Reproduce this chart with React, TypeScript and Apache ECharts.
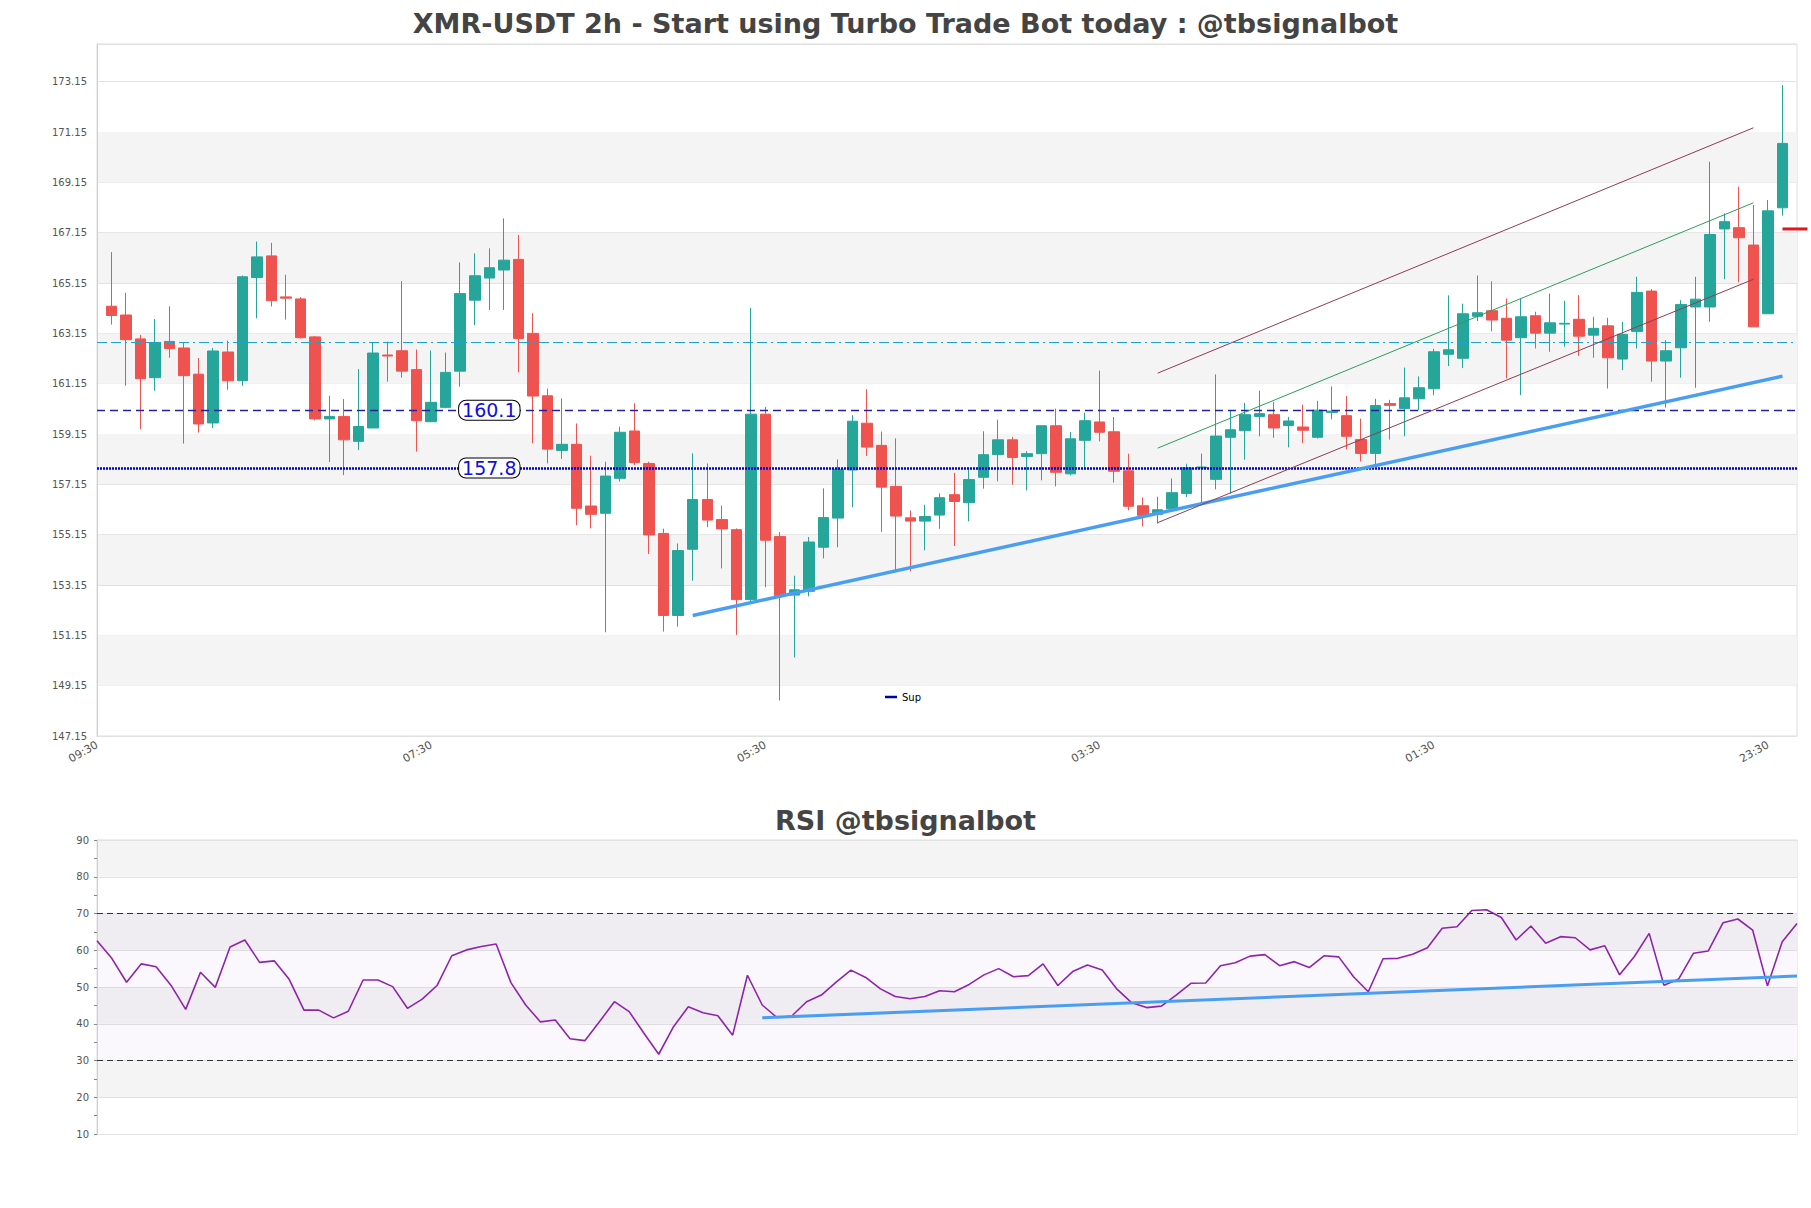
import React, { useEffect, useRef } from 'react';
import * as echarts from 'echarts';

// ---- data ----
const opens = [
  164.23, 163.88, 162.93, 161.39, 162.83, 162.57, 161.53, 159.59, 162.41, 161.27,
  165.37, 166.23, 164.60, 164.52, 163.01, 159.75, 159.85, 158.86, 159.39, 162.29,
  162.46, 161.71, 159.64, 160.21, 161.65, 164.47, 165.35, 165.67, 166.09, 163.15,
  160.67, 158.50, 158.74, 156.29, 156.00, 157.39, 159.27, 157.98, 155.20, 151.94,
  154.57, 156.55, 155.75, 155.35, 152.57, 159.94, 155.08, 152.75, 152.90, 154.65,
  155.81, 157.72, 159.58, 158.70, 157.07, 155.82, 155.69, 155.93, 156.74, 156.42,
  157.43, 158.33, 158.92, 158.26, 158.37, 159.48, 157.57, 158.90, 159.63, 159.24,
  157.69, 156.30, 155.96, 156.18, 156.79, 157.80, 157.35, 159.02, 159.28, 159.85,
  159.92, 159.49, 159.43, 159.02, 160.01, 159.88, 158.93, 158.38, 160.36, 160.16,
  160.55, 160.95, 162.32, 162.16, 163.83, 164.05, 163.75, 162.98, 163.85, 163.16,
  163.52, 163.71, 163.08, 163.45, 162.13, 163.22, 164.83, 162.05, 162.58, 164.20,
  164.20, 167.30, 167.35, 166.66, 163.93, 168.14,
];
const highs = [
  166.38, 164.76, 163.09, 163.72, 164.23, 162.79, 162.17, 162.57, 162.86, 165.45,
  166.80, 166.75, 165.48, 164.59, 163.05, 160.67, 160.54, 161.73, 162.79, 162.82,
  165.23, 162.51, 162.47, 162.39, 165.97, 166.33, 166.53, 167.72, 167.06, 163.95,
  160.96, 160.57, 159.57, 158.29, 158.05, 159.44, 160.37, 158.05, 155.39, 154.80,
  158.38, 157.98, 156.31, 155.40, 164.16, 160.23, 155.26, 153.52, 155.06, 156.99,
  158.14, 159.90, 160.93, 159.25, 158.98, 156.11, 156.34, 156.79, 157.61, 157.73,
  159.26, 159.72, 159.03, 158.47, 159.48, 160.16, 159.23, 160.00, 161.67, 159.83,
  158.37, 156.63, 156.66, 157.38, 157.97, 158.37, 161.52, 160.09, 160.39, 160.87,
  160.42, 159.83, 160.32, 160.47, 161.04, 160.66, 159.76, 160.55, 160.51, 161.79,
  161.44, 162.54, 164.66, 164.33, 165.45, 165.22, 164.54, 164.54, 164.01, 164.73,
  164.45, 164.67, 163.81, 163.77, 163.61, 165.40, 164.91, 162.88, 164.47, 165.40,
  169.97, 167.92, 168.98, 168.25, 168.45, 173.02,
];
const lows = [
  163.50, 161.07, 159.34, 160.87, 162.18, 158.77, 159.21, 159.39, 160.91, 161.07,
  163.75, 164.22, 163.70, 162.95, 159.70, 158.04, 157.52, 158.52, 159.39, 161.23,
  161.39, 158.45, 159.64, 160.17, 161.03, 163.48, 164.08, 164.08, 161.60, 158.78,
  157.98, 158.16, 155.53, 155.40, 151.27, 157.26, 157.92, 154.38, 151.30, 151.50,
  153.32, 155.45, 153.81, 151.17, 152.43, 153.06, 148.56, 150.27, 152.70, 154.21,
  154.65, 156.24, 158.28, 155.26, 153.73, 153.69, 154.53, 155.38, 154.70, 155.68,
  156.98, 157.27, 157.14, 156.91, 157.31, 157.07, 157.51, 157.77, 158.86, 157.22,
  156.12, 155.48, 155.59, 156.05, 156.65, 156.35, 156.95, 156.78, 158.13, 159.06,
  159.00, 158.62, 158.79, 158.97, 159.73, 158.54, 158.06, 157.90, 158.93, 159.06,
  160.09, 160.69, 161.85, 161.77, 163.64, 163.23, 161.36, 160.70, 162.55, 162.42,
  162.62, 162.26, 162.18, 160.96, 161.69, 162.55, 161.23, 160.20, 161.39, 160.99,
  163.61, 165.30, 165.18, 163.41, 163.93, 167.83,
];
const closes = [
  163.86, 162.90, 161.35, 162.79, 162.55, 161.47, 159.55, 162.45, 161.27, 165.40,
  166.19, 164.45, 164.55, 162.98, 159.75, 159.85, 158.92, 159.45, 162.37, 162.25,
  161.65, 159.68, 160.41, 161.60, 164.73, 165.44, 165.76, 166.06, 162.95, 160.66,
  158.55, 158.74, 156.20, 155.96, 157.48, 159.22, 158.02, 155.14, 151.94, 154.52,
  156.55, 155.73, 155.38, 152.57, 159.94, 154.93, 152.73, 152.96, 154.86, 155.83,
  157.74, 159.66, 158.63, 157.04, 155.89, 155.69, 155.87, 156.62, 156.47, 157.34,
  158.33, 158.92, 158.22, 158.37, 159.48, 157.63, 158.96, 159.68, 159.22, 157.67,
  156.28, 155.92, 156.14, 156.82, 157.81, 157.84, 159.07, 159.32, 159.92, 159.96,
  159.39, 159.67, 159.30, 160.10, 160.06, 159.06, 158.38, 160.28, 160.29, 160.59,
  160.99, 162.42, 162.50, 163.93, 163.97, 163.68, 162.88, 163.81, 163.16, 163.57,
  163.55, 163.04, 163.35, 162.18, 163.11, 164.78, 162.05, 162.46, 164.30, 164.51,
  167.08, 167.59, 166.95, 163.41, 168.02, 170.70,
];
const rsiValues = [
  62.6, 57.8, 51.3, 56.3, 55.5, 50.5, 43.9, 54.0, 49.9, 60.9,
  62.8, 56.7, 57.1, 52.1, 43.7, 43.7, 41.6, 43.4, 51.9, 51.9,
  50.1, 44.2, 46.7, 50.4, 58.5, 60.1, 61.0, 61.7, 51.2, 45.1,
  40.5, 41.0, 35.9, 35.4, 40.6, 46.0, 43.3, 37.4, 31.7, 39.2,
  44.6, 43.0, 42.2, 36.9, 53.2, 45.1, 41.7, 42.1, 46.0, 47.8,
  51.3, 54.6, 52.6, 49.5, 47.4, 46.8, 47.4, 49.0, 48.7, 50.7,
  53.3, 55.0, 52.8, 53.1, 56.3, 50.4, 54.2, 56.0, 54.6, 49.4,
  45.7, 44.4, 44.8, 47.8, 51.0, 51.1, 55.8, 56.6, 58.4, 58.8,
  55.8, 56.9, 55.3, 58.5, 58.2, 52.8, 48.7, 57.7, 57.8, 58.9,
  60.7, 66.0, 66.4, 70.8, 71.0, 68.9, 62.8, 66.6, 61.9, 63.7,
  63.4, 60.1, 61.2, 53.3, 58.3, 64.6, 50.5, 52.2, 59.2, 59.8,
  67.5, 68.5, 65.5, 50.3, 62.3, 67.3,
];
const timeLabels = ['09:30', '07:30', '05:30', '03:30', '01:30', '23:30'];
const labelEvery = 23;
const resistanceLevel = 162.8;
const supportLevels = [160.1, 157.8];
const supportTrend = [[41, 151.94], [116, 161.45]];
const channelUpper = [[73, 161.57], [114, 171.32]];
const channelMid = [[73, 158.59], [114, 168.34]];
const channelLower = [[73, 155.63], [114, 165.3]];
const rsiTrend = [[45, 41.6], [115, 53.0]];
const lastPriceMark = [[116, 167.3]];
const greyBandStarts = [149.15, 153.15, 157.15, 161.15, 165.15, 169.15];
const priceMin = 147.15;
const priceMax = 174.65;
const rsiLevels = [70, 30];

const FONT = 'DejaVu Sans';

export default function App() {
  const ref = useRef<HTMLDivElement>(null);
  useEffect(() => {
    const chart = echarts.init(ref.current!, undefined, { renderer: 'svg' });
    const mainCats = Array.from({ length: opens.length + 2 }, (_, i) => String(i));
    const rsiCats = rsiValues.map((_, i) => String(i));
    const candleData = opens.map((o, i) => [i + 1, o, closes[i], lows[i], highs[i]]);

    const option: any = {
      animation: false,
      backgroundColor: '#fff',
      textStyle: { fontFamily: FONT },
      title: [
        {
          text: 'XMR-USDT 2h - Start using Turbo Trade Bot today : @tbsignalbot',
          left: 'center', top: 10, padding: 0,
          textStyle: { fontSize: 27, fontWeight: 'bold', color: '#444', fontFamily: FONT },
        },
        {
          text: 'RSI @tbsignalbot',
          left: 'center', top: 807, padding: 0,
          textStyle: { fontSize: 27, fontWeight: 'bold', color: '#444', fontFamily: FONT },
        },
      ],
      legend: {
        data: [{ name: 'Sup', icon: 'rect' }],
        left: 879, top: 686, padding: [6, 10, 6, 6],
        itemWidth: 12, itemHeight: 2.5, selectedMode: false,
        backgroundColor: '#fff',
        textStyle: { fontSize: 10, color: '#000', fontFamily: FONT },
      },
      grid: [
        { left: 97, top: 44, width: 1700, height: 692, show: true, borderColor: '#dcdcdc', borderWidth: 1 },
        { left: 97, top: 840, width: 1700, height: 294, show: true, borderColor: '#dcdcdc', borderWidth: 1 },
      ],
      xAxis: [
        {
          gridIndex: 0, type: 'category', data: mainCats, boundaryGap: false,
          axisLine: { lineStyle: { color: '#cfcfcf' } }, axisTick: { show: false },
          splitLine: { show: false },
          axisLabel: {
            interval: (i: number) => i % labelEvery === 0,
            formatter: (_v: string, i: number) => timeLabels[i / labelEvery] ?? '',
            rotate: 30, fontSize: 11, color: '#555', margin: 8, fontFamily: FONT,
          },
        },
        {
          gridIndex: 1, type: 'category', data: rsiCats, boundaryGap: false,
          axisLine: { lineStyle: { color: '#cfcfcf' } }, axisTick: { show: false },
          axisLabel: { show: false }, splitLine: { show: false },
        },
      ],
      yAxis: [
        {
          gridIndex: 0, type: 'value', min: priceMin, max: priceMax, interval: 2, z: 1,
          axisLine: { show: true, lineStyle: { color: '#cfcfcf' } }, axisTick: { show: false },
          axisLabel: {
            formatter: (v: number) => v.toFixed(2), fontSize: 10, color: '#555',
            margin: 10, showMaxLabel: false, fontFamily: FONT,
          },
          splitLine: { lineStyle: { color: '#e2e2e2' } },
        },
        {
          gridIndex: 1, type: 'value', min: 10, max: 90, interval: 10, z: 1,
          axisLine: { show: true, lineStyle: { color: '#cfcfcf' } },
          axisTick: { show: true, length: 3, lineStyle: { color: '#888' } },
          minorTick: { show: true, splitNumber: 2, length: 3, lineStyle: { color: '#888' } },
          axisLabel: { fontSize: 10, color: '#555', margin: 8, fontFamily: FONT },
          splitLine: { lineStyle: { color: '#e2e2e2' } },
          splitArea: { show: true, areaStyle: { color: ['#ffffff', '#f4f4f4'] } },
        },
      ],
      series: [
        {
          name: 'bands', type: 'line', xAxisIndex: 0, yAxisIndex: 0, data: [], z: 0, silent: true,
          markArea: {
            silent: true, itemStyle: { color: '#f4f4f4' },
            data: greyBandStarts.map((b) => [{ yAxis: b }, { yAxis: b + 2 }]),
          },
        },
        {
          name: 'XMR', type: 'candlestick', xAxisIndex: 0, yAxisIndex: 0, z: 3,
          data: candleData, encode: { x: 0, y: [1, 2, 3, 4] }, barWidth: 11,
          itemStyle: { color: '#26a69a', color0: '#ef5350', borderColor: '#26a69a', borderColor0: '#ef5350', borderWidth: 1 },
        },
        {
          name: 'Sup', type: 'line', xAxisIndex: 0, yAxisIndex: 0, z: 4,
          data: [[0, supportLevels[0]]], symbol: 'none', showSymbol: false,
          itemStyle: { color: '#0000aa' }, lineStyle: { color: '#0000aa', width: 1 },
          markLine: {
            silent: true, symbol: 'none', label: { show: false },
            data: [
              { yAxis: resistanceLevel, lineStyle: { color: '#1ca3cf', type: [10, 4, 10, 4, 2, 4], width: 1.2 } },
              { yAxis: supportLevels[0], lineStyle: { color: '#22229c', type: [8, 5], width: 1.3 } },
              { yAxis: supportLevels[1], lineStyle: { color: '#0000d4', type: [2, 1], width: 2.5 } },
            ],
          },
          markPoint: {
            silent: true, symbol: 'rect', symbolSize: 1,
            itemStyle: { color: 'rgba(0,0,0,0)' },
            label: {
              show: true, position: 'inside', fontSize: 19, color: '#1010dd', fontFamily: FONT,
              backgroundColor: '#fff', borderColor: '#000', borderWidth: 1, borderRadius: 7,
              padding: [1, 3, -1, 3],
              formatter: (p: any) => String(p.value),
            },
            data: supportLevels.map((v) => ({ coord: [27, v], value: v })),
          },
        },
        {
          name: 'supportTrend', type: 'line', xAxisIndex: 0, yAxisIndex: 0, z: 5,
          data: supportTrend, symbol: 'none', lineStyle: { color: '#4a9ef2', width: 3.5 }, silent: true,
        },
        {
          name: 'channelUpper', type: 'line', xAxisIndex: 0, yAxisIndex: 0, z: 5,
          data: channelUpper, symbol: 'none', lineStyle: { color: '#8e3d52', width: 1 }, silent: true,
        },
        {
          name: 'channelMid', type: 'line', xAxisIndex: 0, yAxisIndex: 0, z: 5,
          data: channelMid, symbol: 'none', lineStyle: { color: '#2f9d5c', width: 1 }, silent: true,
        },
        {
          name: 'channelLower', type: 'line', xAxisIndex: 0, yAxisIndex: 0, z: 5,
          data: channelLower, symbol: 'none', lineStyle: { color: '#8e3d52', width: 1 }, silent: true,
        },
        {
          name: 'lastPrice', type: 'custom', xAxisIndex: 0, yAxisIndex: 0, z: 6, clip: false, silent: true,
          data: lastPriceMark,
          renderItem: (_params: any, api: any) => {
            const p = api.coord([api.value(0), api.value(1)]);
            return {
              type: 'line',
              shape: { x1: p[0], y1: p[1], x2: p[0] + 25, y2: p[1] },
              style: { stroke: '#e3161c', lineWidth: 3 },
            };
          },
        },
        {
          name: 'RSI', type: 'line', xAxisIndex: 1, yAxisIndex: 1, z: 4,
          data: rsiValues, symbol: 'none', lineStyle: { color: '#8e24aa', width: 1.6 }, silent: true,
          markLine: {
            silent: true, symbol: 'none', label: { show: false },
            lineStyle: { color: '#333', type: [6, 4], width: 1.2 },
            data: rsiLevels.map((v) => ({ yAxis: v })),
          },
          markArea: {
            silent: true, itemStyle: { color: 'rgba(190,140,215,0.06)' },
            data: [[{ yAxis: rsiLevels[1] }, { yAxis: rsiLevels[0] }]],
          },
        },
        {
          name: 'rsiTrend', type: 'line', xAxisIndex: 1, yAxisIndex: 1, z: 5,
          data: rsiTrend, symbol: 'none', lineStyle: { color: '#4a9ef2', width: 3 }, silent: true,
        },
      ],
    };
    chart.setOption(option);
    return () => chart.dispose();
  }, []);
  return (
    <div
      ref={ref}
      style={{ position: 'absolute', left: 0, top: 0, width: 1811, height: 1208, background: '#fff' }}
    />
  );
}
